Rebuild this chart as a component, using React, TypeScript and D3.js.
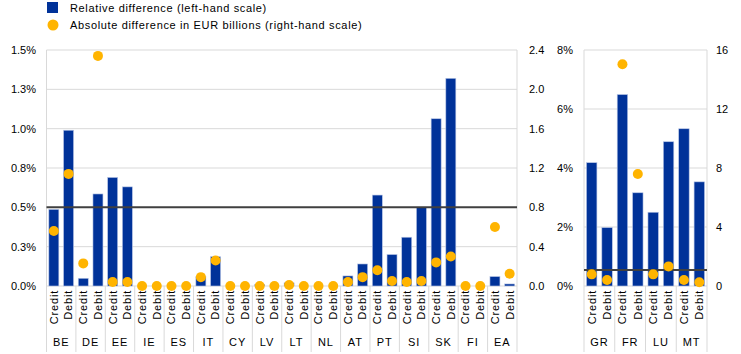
import React from 'react';
import * as d3 from 'd3';

const countriesLeft = ['BE','DE','EE','IE','ES','IT','CY','LV','LT','NL','AT','PT','SI','SK','FI','EA'];
const flows = ['Credit','Debit'];
// relative difference (%), credit/debit per country
const relLeft = [0.487,0.99, 0.049,0.585, 0.69,0.63, 0,0, 0,0, 0.06,0.186, 0,0, 0.01,0, 0.02,0, 0,0, 0.064,0.14, 0.578,0.20, 0.31,0.50, 1.063,1.32, 0,0, 0.06,0.013];
// absolute difference (EUR bn)
const absLeft = [0.56,1.14, 0.23,2.34, 0.04,0.04, 0,0, 0,0, 0.09,0.26, 0,0, 0,0, 0.01,0, 0,0, 0.04,0.09, 0.16,0.05, 0.04,0.05, 0.24,0.30, 0,0, 0.60,0.125];
const refLineLeft = 0.5;

const countriesRight = ['GR','FR','LU','MT'];
const relRight = [4.18,1.98, 6.49,3.16, 2.50,4.89, 5.33,3.53];
const absRight = [0.79,0.41, 15.03,7.59, 0.79,1.33, 0.41,0.25];
const refLineRight = 0.54;

const leftTicksL = [0,0.25,0.5,0.75,1.0,1.25,1.5];
const leftTickLabelsL = ['0.0%','0.3%','0.5%','0.8%','1.0%','1.3%','1.5%'];
const rightTicksL = [0,0.4,0.8,1.2,1.6,2.0,2.4];
const rightTickLabelsL = ['0.0','0.4','0.8','1.2','1.6','2.0','2.4'];
const leftTicksR = [0,2,4,6,8];
const leftTickLabelsR = ['0%','2%','4%','6%','8%'];
const rightTicksR = [0,4,8,12,16];
const rightTickLabelsR = ['0','4','8','12','16'];

const BLUE = '#003299';
const YELLOW = '#FFB400';
const GRID = '#d9d9d9';
const FONT = 'Liberation Sans, Arial, sans-serif';

type PanelProps = {
  countries: string[]; rel: number[]; abs: number[]; refLine: number;
  x0: number; x1: number; yMaxL: number; yMaxR: number;
  ticksL: number[]; labelsL: string[]; ticksR: number[]; labelsR: string[];
  labelLx: number; labelRx: number;
};

const TOP = 50, BOTTOM = 286;

function Panel(p: PanelProps) {
  const keys = p.countries.flatMap((c) => flows.map((f) => c + '|' + f));
  const x = d3.scaleBand<string>().domain(keys).range([p.x0, p.x1]).paddingInner(0.32).paddingOuter(0.16);
  const yL = d3.scaleLinear().domain([0, p.yMaxL]).range([BOTTOM, TOP]);
  const yR = d3.scaleLinear().domain([0, p.yMaxR]).range([BOTTOM, TOP]);
  const groupW = (p.x1 - p.x0) / p.countries.length;
  return (
    <g>
      {p.ticksL.map((t, i) => (
        <g key={'g' + i}>
          <line x1={p.x0} x2={p.x1} y1={yL(t)} y2={yL(t)} stroke={GRID} strokeWidth={1} />
          <text x={p.labelLx} y={yL(t)} dy="0.35em" textAnchor="end" fontSize={11} fontFamily={FONT} fill="#000">{p.labelsL[i]}</text>
        </g>
      ))}
      {p.ticksR.map((t, i) => (
        <text key={'r' + i} x={p.labelRx} y={yR(t)} dy="0.35em" textAnchor="start" fontSize={11} fontFamily={FONT} fill="#000">{p.labelsR[i]}</text>
      ))}
      <line x1={p.x0} x2={p.x0} y1={TOP} y2={BOTTOM} stroke={GRID} />
      <line x1={p.x1} x2={p.x1} y1={TOP} y2={BOTTOM} stroke={GRID} />
      {d3.range(p.countries.length + 1).map((i) => (
        <line key={'s' + i} x1={p.x0 + i * groupW} x2={p.x0 + i * groupW} y1={BOTTOM} y2={352} stroke={GRID} />
      ))}
      {keys.map((k, i) => (
        <rect key={'b' + i} x={x(k)} width={x.bandwidth()} y={yL(p.rel[i])} height={BOTTOM - yL(p.rel[i])}
          fill={BLUE} stroke="#b8c6e6" strokeWidth={p.rel[i] > 0 ? 0.6 : 0} />
      ))}
      <line x1={p.x0} x2={p.x1} y1={yL(p.refLine)} y2={yL(p.refLine)} stroke="#404040" strokeWidth={2} />
      {keys.map((k, i) => (
        <circle key={'c' + i} cx={(x(k) as number) + x.bandwidth() / 2} cy={yR(p.abs[i])} r={5} fill={YELLOW} />
      ))}
      {keys.map((k, i) => (
        <text key={'t' + i} transform={`translate(${(x(k) as number) + x.bandwidth() / 2},290) rotate(-90)`}
          textAnchor="end" dy="0.35em" fontSize={11} letterSpacing={0.8} fontFamily={FONT} fill="#000">{k.split('|')[1]}</text>
      ))}
      {p.countries.map((c, i) => (
        <text key={'n' + i} x={p.x0 + (i + 0.5) * groupW} y={346} textAnchor="middle" fontSize={11} letterSpacing={0.9} fontFamily={FONT} fill="#000">{c}</text>
      ))}
    </g>
  );
}

export default function App() {
  return (
    <svg width={741} height={354} style={{ position: 'absolute', left: 0, top: 0, background: '#fff' }}>
      <rect x={47} y={2} width={11} height={11} fill={BLUE} />
      <text x={70} y={12} fontSize={11} letterSpacing={0.65} fontFamily={FONT}>Relative difference (left-hand scale)</text>
      <circle cx={53} cy={25} r={5.5} fill={YELLOW} />
      <text x={70} y={29} fontSize={11} letterSpacing={0.65} fontFamily={FONT}>Absolute difference in EUR billions (right-hand scale)</text>
      <Panel countries={countriesLeft} rel={relLeft} abs={absLeft} refLine={refLineLeft}
        x0={46.5} x1={517} yMaxL={1.5} yMaxR={2.4}
        ticksL={leftTicksL} labelsL={leftTickLabelsL} ticksR={rightTicksL} labelsR={rightTickLabelsL}
        labelLx={36} labelRx={529} />
      <Panel countries={countriesRight} rel={relRight} abs={absRight} refLine={refLineRight}
        x0={584} x1={707} yMaxL={8} yMaxR={16}
        ticksL={leftTicksR} labelsL={leftTickLabelsR} ticksR={rightTicksR} labelsR={rightTickLabelsR}
        labelLx={573} labelRx={716} />
    </svg>
  );
}
